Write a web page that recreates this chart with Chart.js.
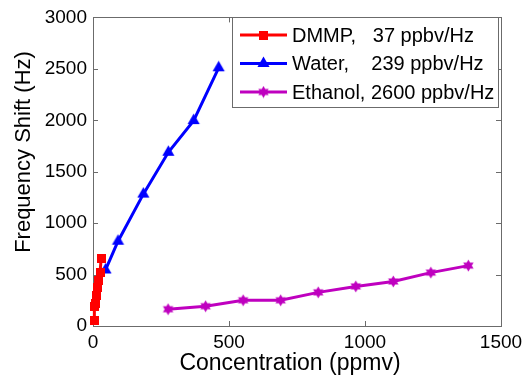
<!DOCTYPE html>
<html>
<head>
<meta charset="utf-8">
<script src="https://cdn.jsdelivr.net/npm/chart.js@4.4.0/dist/chart.umd.min.js"></script>
<style>
    html, body { margin: 0; padding: 0; background: #fff; }
</style>
</head>
<body>
<canvas id="chart" width="532" height="379"></canvas>
<script>
const dmmpConc = [4, 5, 9, 14, 18, 22, 26, 30];
const dmmpShift = [50, 190, 220, 300, 370, 440, 520, 660];
const waterConc = [46, 92, 185, 277, 370, 462];
const waterShift = [545, 824, 1282, 1689, 1997, 2510];
const ethanolConc = [276, 414, 552, 690, 828, 966, 1104, 1242, 1380];
const ethanolShift = [163, 192, 250, 250, 327, 385, 433, 519, 587];

const seriesLabels = ["DMMP,   37 ppbv/Hz", "Water,    239 ppbv/Hz", "Ethanol, 2600 ppbv/Hz"];
const seriesColors = ["#ff0000", "#0000ff", "#bf00bf"];
const xTicks = [0, 500, 1000, 1500];
const yTicks = [0, 500, 1000, 1500, 2000, 2500, 3000];
const xTitle = "Concentration (ppmv)";
const yTitle = "Frequency Shift (Hz)";

const FONT = "'Liberation Sans', Arial, Helvetica, sans-serif";
const FRAME = "#6b6b6b";

// marker images, closest thing to matlab's s / ^ / hexagram
function makeMarker(shape, color) {
    const size = shape === "square" ? 9 : shape === "triangle" ? 15 : 13;
    const c = document.createElement("canvas");
    c.width = size;
    c.height = size;
    const ctx = c.getContext("2d");
    const m = size / 2;
    ctx.fillStyle = color;
    ctx.beginPath();
    if (shape === "square") {
        ctx.rect(0, 0, size, size);
    } else {
        const r = m - 0.5;
        const tri = (start) => {
            for (let i = 0; i < 3; i++) {
                const a = start + i * (Math.PI * 2 / 3);
                const px = m + Math.cos(a) * r;
                const py = m + Math.sin(a) * r;
                i === 0 ? ctx.moveTo(px, py) : ctx.lineTo(px, py);
            }
            ctx.closePath();
        };
        tri(-Math.PI / 2);
        if (shape === "hexagram") tri(Math.PI / 2);
    }
    ctx.fill();
    return c;
}

const markers = [
    makeMarker("square", seriesColors[0]),
    makeMarker("triangle", seriesColors[1]),
    makeMarker("hexagram", seriesColors[2]),
];

const toPoints = (xs, ys) => xs.map((x, i) => ({ x: x, y: ys[i] }));

const framePlugin = {
    id: "frame",
    beforeDatasetsDraw(chart) {
        const { ctx, chartArea: a, scales } = chart;
        ctx.save();
        ctx.strokeStyle = FRAME;
        ctx.lineWidth = 1;
        ctx.strokeRect(Math.round(a.left) + 0.5, Math.round(a.top) + 0.5, Math.round(a.right - a.left), Math.round(a.bottom - a.top));
        ctx.beginPath();
        const tl = 5;
        for (const v of xTicks) {
            const x = Math.round(scales.x.getPixelForValue(v)) + 0.5;
            ctx.moveTo(x, a.bottom); ctx.lineTo(x, a.bottom - tl);
            ctx.moveTo(x, a.top); ctx.lineTo(x, a.top + tl);
        }
        for (const v of yTicks) {
            const y = Math.round(scales.y.getPixelForValue(v)) + 0.5;
            ctx.moveTo(a.left, y); ctx.lineTo(a.left + tl, y);
            ctx.moveTo(a.right, y); ctx.lineTo(a.right - tl, y);
        }
        ctx.stroke();
        ctx.restore();
    },
    afterDatasetsDraw(chart) {
        const { ctx } = chart;
        ctx.save();

        // axis titles
        ctx.fillStyle = "#000";
        ctx.font = `23px ${FONT}`;
        ctx.textAlign = "center";
        ctx.textBaseline = "middle";
        ctx.fillText(xTitle, 290, 364);
        ctx.translate(24, 152);
        ctx.rotate(-Math.PI / 2);
        ctx.font = `22px ${FONT}`;
        ctx.fillText(yTitle, 0, 0);
        ctx.setTransform(1, 0, 0, 1, 0, 0);

        // legend box
        const box = { x: 232.5, y: 17.5, w: 266, h: 90 };
        ctx.fillStyle = "#fff";
        ctx.fillRect(box.x, box.y, box.w, box.h);
        ctx.strokeStyle = FRAME;
        ctx.lineWidth = 1;
        ctx.strokeRect(box.x, box.y, box.w, box.h);

        const rows = [35, 63.5, 92];
        chart.data.datasets.forEach((ds, i) => {
            const y = rows[i];
            ctx.strokeStyle = ds.borderColor;
            ctx.lineWidth = 3;
            ctx.beginPath();
            ctx.moveTo(240, y);
            ctx.lineTo(287, y);
            ctx.stroke();
            const img = ds.pointStyle;
            ctx.drawImage(img, 263.5 - img.width / 2, y - img.height / 2);
            ctx.fillStyle = "#000";
            ctx.font = `20px ${FONT}`;
            ctx.textAlign = "left";
            ctx.textBaseline = "middle";
            ctx.fillText(ds.label, 292, y + 1);
        });
        ctx.restore();
    },
};

const makeDataset = (i, xs, ys) => ({
    label: seriesLabels[i],
    data: toPoints(xs, ys),
    borderColor: seriesColors[i],
    backgroundColor: seriesColors[i],
    borderWidth: 3,
    pointStyle: markers[i],
    pointRadius: 6,
    tension: 0,
    clip: false,
});

const plainTick = (v) => String(v);

new Chart(document.getElementById("chart"), {
    type: "line",
    data: {
        datasets: [
            makeDataset(0, dmmpConc, dmmpShift),
            makeDataset(1, waterConc, waterShift),
            makeDataset(2, ethanolConc, ethanolShift),
        ],
    },
    options: {
        responsive: false,
        animation: false,
        layout: { padding: { top: 13, right: 31, left: 0, bottom: 0 } },
        plugins: {
            legend: { display: false },
            tooltip: { enabled: false },
        },
        scales: {
            x: {
                type: "linear",
                min: 0,
                max: 1500,
                afterBuildTicks: (s) => { s.ticks = xTicks.map((v) => ({ value: v })); },
                afterFit: (s) => { s.height = 53; },
                grid: { display: false, drawTicks: false },
                border: { display: false },
                ticks: { color: "#000", padding: 5, maxRotation: 0, callback: plainTick, font: { family: FONT, size: 19 } },
            },
            y: {
                type: "linear",
                min: 0,
                max: 3000,
                afterBuildTicks: (s) => { s.ticks = yTicks.map((v) => ({ value: v })); },
                afterFit: (s) => { s.width = 93; },
                grid: { display: false, drawTicks: false },
                border: { display: false },
                ticks: { color: "#000", padding: 6, callback: plainTick, font: { family: FONT, size: 19 } },
            },
        },
    },
    plugins: [framePlugin],
});
</script>
</body>
</html>
